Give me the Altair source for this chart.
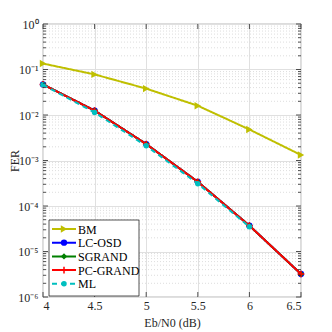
import altair as alt
import pandas as pd

# ---- data ----
snr = [4.0, 4.5, 5.0, 5.5, 6.0, 6.5]
bm = [0.135, 0.078, 0.038, 0.016, 0.0048, 0.00132]
lc_osd = [0.047, 0.0125, 0.0023, 0.00034, 3.7e-5, 3.2e-6]
sgrand = [0.047, 0.0125, 0.0023, 0.00034, 3.7e-5, 3.2e-6]
pc_grand = [0.047, 0.0125, 0.0023, 0.00034, 3.7e-5, 3.2e-6]
snr_ml = [4.0, 4.5, 5.0, 5.5, 6.0]
ml = [0.046, 0.0114, 0.0021, 0.00031, 3.5e-5]

names = ["BM", "LC-OSD", "SGRAND", "PC-GRAND", "ML"]
colors = ["#bfbf00", "#0000ff", "#008000", "#ff0000", "#00bfbf"]
x_ticks = [4, 4.5, 5, 5.5, 6, 6.5]
y_major = [1e-6, 1e-5, 1e-4, 1e-3, 1e-2, 1e-1, 1]
y_labels = ["10⁰", "10⁻¹", "10⁻²", "10⁻³", "10⁻⁴", "10⁻⁵", "10⁻⁶"]
y_minor = [m * 10.0 ** e for e in range(-6, 0) for m in range(2, 10)]

W, H = 258, 273
FONT = "Liberation Serif"

series = {
    "BM": (snr, bm),
    "LC-OSD": (snr, lc_osd),
    "SGRAND": (snr, sgrand),
    "PC-GRAND": (snr, pc_grand),
    "ML": (snr_ml, ml),
}

xs = alt.Scale(domain=[4, 6.5], nice=False, zero=False)
ys = alt.Scale(type="log", domain=[1e-6, 1], nice=False)

label_expr = "[" + ",".join("'%s'" % l for l in y_labels) + "][round(-log(datum.value)/LN10)]"

base_df = pd.DataFrame({"x": [4.0], "y": [1e-3]})
base = alt.Chart(base_df).mark_point(opacity=0).encode(
    x=alt.X("x:Q", scale=xs,
            axis=alt.Axis(values=x_ticks, format="~g", title="Eb/N0 (dB)", grid=True,
                          gridColor="#e0e0e0", domain=False, ticks=False,
                          labelPadding=3, titleY=29, titleBaseline="alphabetic",
                          titleX=W / 2, titleAlign="center")),
    y=alt.Y("y:Q", scale=ys,
            axis=alt.Axis(values=y_major, labelExpr=label_expr, title="FER", grid=True,
                          gridColor="#e0e0e0", domain=False, ticks=False,
                          labelPadding=5, titleX=-25, titleY=H / 2,
                          titleAngle=-90, titleAlign="center",
                          titleBaseline="alphabetic")),
)

minor_df = pd.DataFrame({"y": y_minor})
minor_grid = alt.Chart(minor_df).mark_rule(color="#d4d4d4", strokeDash=[1, 2], strokeWidth=0.8).encode(
    y=alt.Y("y:Q", scale=ys), x=alt.value(0), x2=alt.value(W)
)

major_df = pd.DataFrame({"y": y_major})
tick_layers = []
for x0, x1, d in [(0, 5, major_df), (W, W - 5, major_df), (0, 3, minor_df), (W, W - 3, minor_df)]:
    tick_layers.append(
        alt.Chart(d).mark_rule(color="#262626", strokeWidth=0.8).encode(
            y=alt.Y("y:Q", scale=ys), x=alt.value(x0), x2=alt.value(x1)
        )
    )
xt_df = pd.DataFrame({"x": x_ticks})
for y0, y1 in [(H, H - 5), (0, 5)]:
    tick_layers.append(
        alt.Chart(xt_df).mark_rule(color="#262626", strokeWidth=0.8).encode(
            x=alt.X("x:Q", scale=xs), y=alt.value(y0), y2=alt.value(y1)
        )
    )

shapes = ["triangle-right", "circle", "diamond", "M-1,0H1M0,-1V1", "circle"]
sizes = [55, 40, 40, 45, 30]
filled = [True, True, True, False, True]

data_layers = []
for name, col, shp, sz, fl in zip(names, colors, shapes, sizes, filled):
    xv, yv = series[name]
    d = pd.DataFrame({"x": xv, "y": yv, "name": name})
    dash = [5, 4] if name == "ML" else [1, 0]
    line = alt.Chart(d).mark_line(color=col, strokeWidth=2, strokeDash=dash).encode(
        x=alt.X("x:Q", scale=xs), y=alt.Y("y:Q", scale=ys)
    )
    pt = alt.Chart(d).mark_point(shape=shp, size=sz, filled=fl, color=col, opacity=1,
                                 strokeWidth=1.5 if not fl else 1).encode(
        x=alt.X("x:Q", scale=xs), y=alt.Y("y:Q", scale=ys)
    )
    data_layers += [line, pt]

leg_layers = []
box_df = pd.DataFrame({"a": [0]})
leg_layers.append(
    alt.Chart(box_df).mark_rect(fill="white", stroke="#262626", strokeWidth=0.8).encode(
        x=alt.value(6), x2=alt.value(96), y=alt.value(196), y2=alt.value(272)
    )
)
for i, (name, col, shp, sz, fl) in enumerate(zip(names, colors, shapes, sizes, filled)):
    yp = 205 + i * 13.7
    d = pd.DataFrame({"name": [name]})
    dash = [5, 4] if name == "ML" else [1, 0]
    leg_layers.append(
        alt.Chart(d).mark_rule(color=col, strokeWidth=2, strokeDash=dash).encode(
            x=alt.value(9), x2=alt.value(33), y=alt.value(yp)
        )
    )
    leg_layers.append(
        alt.Chart(d).mark_point(shape=shp, size=sz, filled=fl, color=col, opacity=1,
                                strokeWidth=1.5 if not fl else 1).encode(
            x=alt.value(21), y=alt.value(yp)
        )
    )
    leg_layers.append(
        alt.Chart(d).mark_text(align="left", baseline="middle", font=FONT, fontSize=12,
                               color="black").encode(
            x=alt.value(35), y=alt.value(yp + 0.5), text="name:N"
        )
    )

chart = alt.layer(base, minor_grid, *data_layers, *tick_layers, *leg_layers).properties(
    width=W, height=H,
    autosize=alt.AutoSizeParams(type="none"),
    padding={"left": 35, "top": 16, "right": 10, "bottom": 34},
).configure_view(
    stroke="#262626", strokeWidth=0.8
).configure_axis(
    labelFont=FONT, titleFont=FONT, labelFontSize=12, titleFontSize=12,
    labelColor="#262626", titleColor="#262626", titleFontWeight="normal"
)

chart.save("out.html", embed_options={"renderer": "svg", "actions": False})
